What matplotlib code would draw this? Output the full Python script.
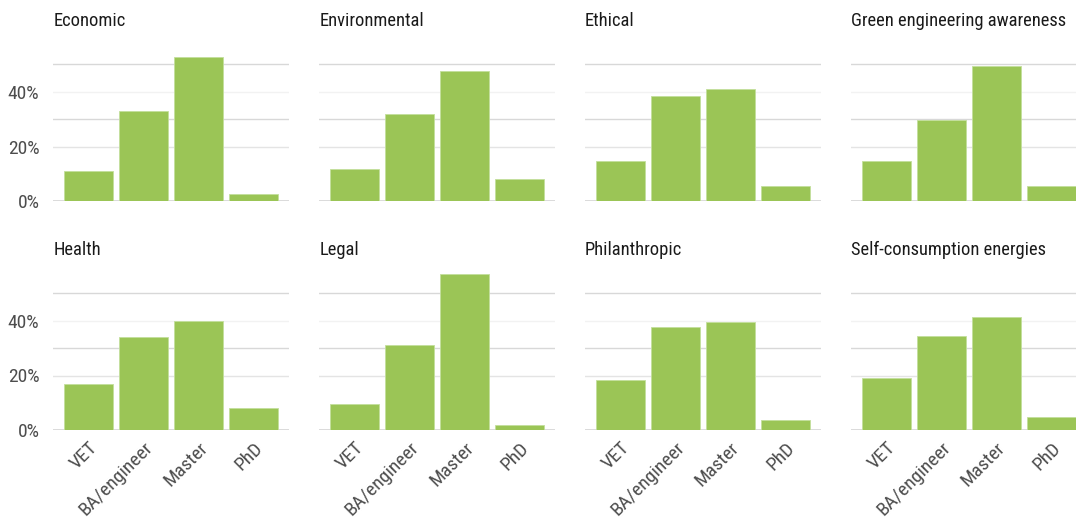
import matplotlib
matplotlib.use("Agg")
import matplotlib.pyplot as plt
from matplotlib import font_manager

names = {f.name for f in font_manager.fontManager.ttflist}
condensed = [n for n in ["Roboto Condensed", "Liberation Sans Narrow"] if n in names]
plt.rcParams['font.family'] = condensed[:1] + ['Roboto', 'DejaVu Sans']

levels = ["VET", "BA/engineer", "Master", "PhD"]
panels = ["Economic", "Environmental", "Ethical", "Green engineering awareness",
          "Health", "Legal", "Philanthropic", "Self-consumption energies"]

economic = [11.2, 32.8, 52.7, 2.7]
environmental = [11.8, 32.0, 47.6, 8.3]
ethical = [14.7, 38.3, 40.9, 5.5]
green_awareness = [14.7, 29.8, 49.5, 5.5]
health = [16.9, 34.2, 40.0, 8.3]
legal = [9.5, 31.2, 57.0, 1.9]
philanthropic = [18.5, 37.7, 39.6, 3.9]
self_consumption = [19.2, 34.4, 41.2, 4.9]

series = [economic, environmental, ethical, green_awareness,
          health, legal, philanthropic, self_consumption]

y_ticks = [0, 20, 40]
y_ticklabels = ["0%", "20%", "40%"]

W, H = 1076, 518
fig = plt.figure(figsize=(W / 100, H / 100), dpi=100)

bar_color = "#9BC556"
grid_styles = {20: "#e4e4e4", 30: "#d8d8d8", 40: "#f2f2f2", 50: "#d8d8d8"}

col_left = [53.3, 319.3, 585.0, 851.0]
panel_w = 235.7
row_bottom = [201.3, 430.3]
ymax = 60.0
px_per_unit = 2.74
panel_h = ymax * px_per_unit

for i, (name, vals) in enumerate(zip(panels, series)):
    r, c = divmod(i, 4)
    left = col_left[c] / W
    bottom = 1 - row_bottom[r] / H
    ax = fig.add_axes([left, bottom, panel_w / W, panel_h / H])
    ax.set_xlim(-0.645, 3.645)
    ax.set_ylim(0, ymax)
    for yv, col in grid_styles.items():
        ax.axhline(yv, color=col, lw=1.0, zorder=0)
    ax.axhline(0, color="#d4d4d4", lw=1.2, zorder=0)
    x = list(range(len(levels)))
    ax.bar(x, vals, width=0.89, color=bar_color, edgecolor="#c3df9c",
           linewidth=0.6, zorder=2)
    for s in ax.spines.values():
        s.set_visible(False)
    ax.tick_params(length=0)
    ax.set_yticks(y_ticks)
    if c == 0:
        ax.set_yticklabels(y_ticklabels, fontsize=14, color="#4d4d4d")
        ax.tick_params(axis="y", pad=10)
    else:
        ax.set_yticklabels([])
    ax.set_xticks(x)
    if r == 1:
        ax.set_xticklabels(levels, rotation=45, ha="right",
                           rotation_mode="anchor", fontsize=14,
                           color="#4d4d4d")
        ax.tick_params(axis="x", pad=6)
    else:
        ax.set_xticklabels([])
    ax.text(0, 1 + 10.5 / panel_h, name, transform=ax.transAxes,
            ha="left", va="baseline", fontsize=13.3, color="#1a1a1a")

fig.savefig("out.png", dpi=100, facecolor="white")
